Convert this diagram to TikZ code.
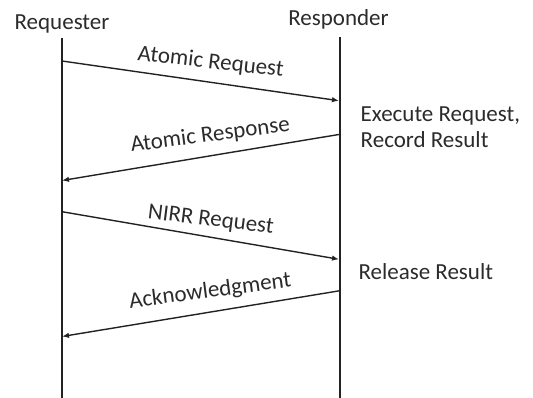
\documentclass[tikz,border=0pt]{standalone}
\usepackage{fontspec}
\setmainfont{Carlito}
\usetikzlibrary{arrows.meta}
\definecolor{ink}{HTML}{222222}
\definecolor{txt}{HTML}{2B2B2B}
\begin{document}
\begin{tikzpicture}[x=1pt,y=-1pt,
  lifeline/.style={draw=ink,line width=1.8pt},
  msg/.style={draw=ink,line width=1.4pt,-{Latex[length=7pt,width=5.5pt]}},
  lbl/.style={text=txt,font=\fontsize{23}{27}\selectfont,inner sep=0pt,anchor=base},
  note/.style={text=txt,font=\fontsize{23}{27}\selectfont,inner sep=0pt,anchor=base west}]
\useasboundingbox (0,0) rectangle (533,398);

% participants
\node[lbl] (req) at (62,29.3) {Requester};
\node[lbl] (resp) at (338.5,26) {Responder};

% lifelines
\coordinate (reqtop) at (62,38);
\coordinate (reqbot) at (62,398);
\coordinate (resptop) at (340,37);
\coordinate (respbot) at (340,398);
\draw[lifeline] (reqtop) -- (reqbot);
\draw[lifeline] (resptop) -- (respbot);

% message end points
\coordinate (m1a) at (62,61);
\coordinate (m1b) at (339,100.7);
\coordinate (m2a) at (340,134.3);
\coordinate (m2b) at (62,180.5);
\coordinate (m3a) at (62,211.7);
\coordinate (m3b) at (339,259.3);
\coordinate (m4a) at (340,290.7);
\coordinate (m4b) at (62,336.5);

% messages
\draw[msg] (m1a) -- (m1b);
\draw[msg] (m2a) -- (m2b);
\draw[msg] (m3a) -- (m3b);
\draw[msg] (m4a) -- (m4b);

% message labels
\node[lbl,rotate=-6.5] (l1) at (210,68.5) {Atomic Request};
\node[lbl,rotate=7.3] (l2) at (211,141.5) {Atomic Response};
\node[lbl,rotate=-7.1] (l3) at (210,226) {NIRR Request};
\node[lbl,rotate=7.4] (l4) at (211,297.5) {Acknowledgment};

% responder actions
\node[note] (exe) at (360.5,121.7) {Execute Request,};
\node[note] (rec) at (360.5,147.3) {Record Result};
\node[note] (rel) at (358.3,279.3) {Release Result};
\end{tikzpicture}
\end{document}
